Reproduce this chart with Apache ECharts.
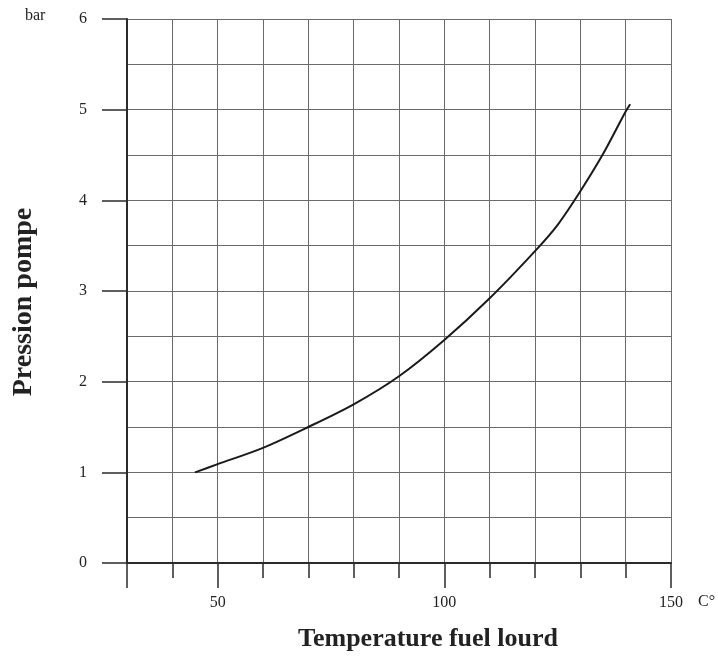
<!DOCTYPE html>
<html>
<head>
<meta charset="utf-8">
<script src="https://cdn.jsdelivr.net/npm/echarts@6/dist/echarts.min.js"></script>
<style>
  html, body { margin: 0; padding: 0; background: #ffffff; }
  #chart { width: 718px; height: 656px; }
</style>
</head>
<body>
<div id="chart"></div>
<script>
// Data
const temperatures = [45, 50, 60, 70, 80, 90, 100, 110, 120, 125, 130, 135, 140, 141];
const pressures    = [1.00, 1.09, 1.27, 1.50, 1.75, 2.06, 2.46, 2.92, 3.44, 3.73, 4.10, 4.51, 4.98, 5.06];
const xLabelValues = [50, 100, 150];
const xLongTicks   = [30, 50, 100, 150];
const xTitle = 'Temperature fuel lourd';
const yTitle = 'Pression pompe';
const yUnit = 'bar';
const xUnit = 'C°';

const FONT = 'Liberation Serif';
const dark = '#2b2b2b';
const gridColor = '#6a6a6a';

const chart = echarts.init(document.getElementById('chart'), null, { renderer: 'canvas' });

const option = {
  backgroundColor: '#ffffff',
  animation: false,
  grid: { left: 127, right: 47, top: 19, bottom: 93, containLabel: false },
  xAxis: [
    {
      type: 'value', position: 'bottom', min: 30, max: 150, interval: 10,
      axisLine: { show: true, lineStyle: { color: dark, width: 2 } },
      axisTick: { show: true, inside: false, length: 15, lineStyle: { color: dark, width: 1.5 } },
      axisLabel: {
        show: true, margin: 32, color: '#222', fontFamily: FONT, fontSize: 16,
        showMinLabel: true, showMaxLabel: true,
        formatter: v => xLabelValues.indexOf(v) >= 0 ? String(v) : ''
      },
      splitLine: { show: true, lineStyle: { color: gridColor, width: 1 } }
    },
    {
      type: 'value', position: 'bottom', min: 30, max: 150, interval: 10,
      axisLine: { show: false },
      axisTick: { show: true, inside: false, length: 25, customValues: xLongTicks, lineStyle: { color: dark, width: 1.5 } },
      axisLabel: { show: false },
      splitLine: { show: false }
    }
  ],
  yAxis: [
    {
      type: 'value', position: 'left', min: 0, max: 6, interval: 0.5,
      axisLine: { show: true, lineStyle: { color: dark, width: 2 } },
      axisTick: { show: false },
      axisLabel: { show: false },
      splitLine: { show: true, lineStyle: { color: gridColor, width: 1 } }
    },
    {
      type: 'value', position: 'left', min: 0, max: 6, interval: 1,
      axisLine: { show: false },
      axisTick: { show: true, inside: false, length: 25, lineStyle: { color: dark, width: 1.5 } },
      axisLabel: { show: true, margin: 40, color: '#222', fontFamily: FONT, fontSize: 16 },
      splitLine: { show: false }
    }
  ],
  series: [
    {
      type: 'line',
      xAxisIndex: 0, yAxisIndex: 0,
      data: temperatures.map((t, i) => [t, pressures[i]]),
      smooth: 0.3,
      showSymbol: false,
      symbol: 'none',
      lineStyle: { color: '#1a1a1a', width: 2 }
    }
  ],
  graphic: [
    {
      type: 'text', left: 25, top: 8,
      style: { text: yUnit, fontFamily: FONT, fontSize: 16, fill: '#222' }
    },
    {
      type: 'text', left: 698, top: 594,
      style: { text: xUnit, fontFamily: FONT, fontSize: 16, fill: '#222' }
    },
    {
      type: 'text', x: 428, y: 639,
      style: { text: xTitle, fontFamily: FONT, fontWeight: 'bold', fontSize: 26, fill: '#222', align: 'center', verticalAlign: 'middle' }
    },
    {
      type: 'text', x: 24, y: 302, rotation: Math.PI / 2,
      style: { text: yTitle, fontFamily: FONT, fontWeight: 'bold', fontSize: 28, fill: '#222', align: 'center', verticalAlign: 'middle' }
    }
  ]
};

chart.setOption(option);
</script>
</body>
</html>
